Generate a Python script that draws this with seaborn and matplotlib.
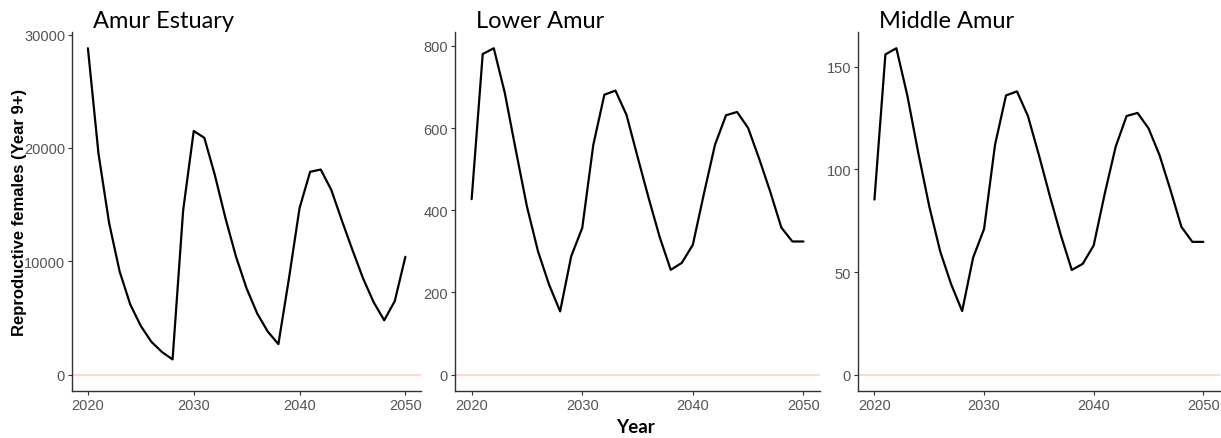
import numpy as np
import pandas as pd
import seaborn as sns
from matplotlib import pyplot as plt

years = list(range(2020, 2051))

estuary = [28800, 19500, 13400, 9100, 6200, 4300, 2900, 2000, 1350, 14500,
           21500, 20900, 17600, 13800, 10400, 7600, 5400, 3800, 2700, 8500,
           14700, 17900, 18100, 16300, 13600, 11000, 8500, 6400, 4800, 6500,
           10400]
lower = [427, 780, 794, 685, 545, 409, 300, 219, 154, 288,
         357, 559, 681, 691, 632, 530, 430, 335, 255, 272,
         316, 440, 559, 631, 639, 600, 525, 445, 358, 324,
         324]
middle = [85.3, 156, 159, 136, 108, 82, 60, 44, 31, 57,
          71, 112, 136, 138, 126, 107, 87, 68, 51, 54,
          63, 88, 111, 126, 127.5, 120, 107, 90, 72, 64.7,
          64.7]

regions = ["Amur Estuary", "Lower Amur", "Middle Amur"]
series = [estuary, lower, middle]
ytick_steps = [10000, 200, 50]

sns.set_style("white")
plt.rcParams["font.family"] = ["Liberation Sans", "DejaVu Sans"]

fig = plt.figure(figsize=(12.21, 4.39), dpi=100)
# left, right edges of each panel (figure fraction)
edges = [(0.059, 0.345), (0.3727, 0.6716), (0.7027, 0.999)]
bottom, top = 0.107, 0.925

for (l, r), name, vals, step in zip(edges, regions, series, ytick_steps):
    ax = fig.add_axes([l, bottom, r - l, top - bottom])
    df = pd.DataFrame({"year": years, "females": vals})
    sns.lineplot(data=df, x="year", y="females", color="black", linewidth=1.6, ax=ax)
    ax.axhline(0, color="#ffcccc", linewidth=1.1, zorder=0)
    ymax = max(vals)
    ax.set_ylim(-0.05 * ymax, 1.05 * ymax)
    ax.set_yticks(np.arange(0, ymax * 1.05, step))
    ax.set_xlim(2018.5, 2051.5)
    ax.set_xticks([2020, 2030, 2040, 2050])
    ax.set_xlabel("")
    ax.set_ylabel("")
    for side in ["top", "right"]:
        ax.spines[side].set_visible(False)
    for side in ["left", "bottom"]:
        ax.spines[side].set_color("#333333")
        ax.spines[side].set_linewidth(1.0)
    ax.tick_params(axis="both", which="both", direction="out", length=3,
                   width=0.8, color="#333333", labelcolor="#555555",
                   labelsize=10.5, left=True, bottom=True, pad=2)
    fig.text(l + 21 / 1221, 1 - 28 / 439, name, fontsize=17, color="black",
             family=["Lato", "DejaVu Sans"], va="baseline", ha="left")

fig.text(20 / 1221, 0.5 - (212 - 219.5) / 439, "Reproductive females (Year 9+)",
         rotation=90, fontsize=12, fontweight="bold", color="black",
         ha="center", va="center")
fig.text(635 / 1221, 1 - 428 / 439, "Year", fontsize=13.5, fontweight="bold",
         color="black", family=["Lato", "DejaVu Sans"],
         ha="center", va="center")

plt.savefig("out.png", dpi=100)
